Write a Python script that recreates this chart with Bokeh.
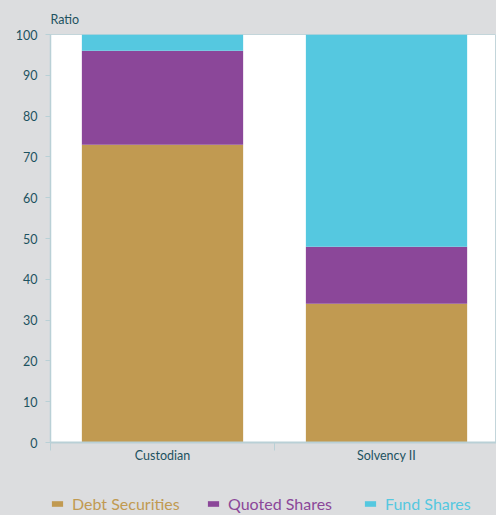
from bokeh.plotting import figure
from bokeh.models import Range1d, FixedTicker, Legend, LegendItem, ColumnDataSource
from bokeh.layouts import column
from bokeh.embed import file_html
from bokeh.resources import INLINE

categories = ["Custodian", "Solvency II"]
series = ["Debt Securities", "Quoted Shares", "Fund Shares"]
debt_securities = [73, 34]
quoted_shares = [23, 14]
fund_shares = [4, 52]
colors = ["#c19a51", "#8b4799", "#55c8e0"]
y_ticks = list(range(0, 101, 10))

TEXT = "#1d5260"
AXIS = "#b9d0d6"
BG = "#dcdddf"
FONT = "Lato"

xpos = [i + 0.5 for i in range(len(categories))]
source = ColumnDataSource(dict(x=xpos, **{
    "Debt Securities": debt_securities,
    "Quoted Shares": quoted_shares,
    "Fund Shares": fund_shares,
}))

p = figure(width=496, height=470, output_backend="svg", toolbar_location=None,
           x_range=Range1d(0, 1.991), y_range=Range1d(0, 100),
           min_border_left=50, min_border_right=0, min_border_top=34, min_border_bottom=28)
p.border_fill_color = BG
p.background_fill_color = "white"
p.outline_line_color = "#c3d5da"
p.grid.visible = False
p.styles = {"background-color": BG}

renderers = p.vbar_stack(series, x="x", width=0.72, source=source, color=colors, line_color=None)

# title
p.title.text = "Ratio"
p.title.align = "left"
p.title.offset = 0
p.title.text_font = FONT
p.title.text_font_size = "12.5px"
p.title.text_font_style = "normal"
p.title.text_color = TEXT
p.title.standoff = 15

# y axis
ya = p.yaxis[0]
ya.ticker = FixedTicker(ticks=y_ticks)
ya.axis_line_color = AXIS
ya.axis_line_width = 1.5
ya.major_tick_line_color = AXIS
ya.major_tick_out = 5
ya.major_tick_in = 0
ya.minor_tick_line_color = None
ya.major_label_standoff = 8
ya.major_label_text_font = FONT
ya.major_label_text_font_size = "12.5px"
ya.major_label_text_color = TEXT

# x axis
xa = p.xaxis[0]
xa.ticker = FixedTicker(ticks=xpos, minor_ticks=[float(i) for i in range(len(categories) + 1)])
xa.major_label_overrides = {xp: c for xp, c in zip(xpos, categories)}
xa.axis_line_color = AXIS
xa.axis_line_width = 2
xa.major_tick_line_color = None
xa.major_tick_out = 0
xa.major_tick_in = 0
xa.minor_tick_line_color = AXIS
xa.minor_tick_out = 8
xa.minor_tick_in = 0
xa.major_label_standoff = -3
xa.major_label_text_font = FONT
xa.major_label_text_font_size = "12.5px"
xa.major_label_text_color = TEXT

# legend strip: separate figure so each label can have its own colour
lg = figure(width=496, height=45, output_backend="svg", toolbar_location=None,
            x_range=Range1d(0, 1), y_range=Range1d(0, 1),
            x_axis_location=None, y_axis_location=None,
            min_border_left=50, min_border_right=0, min_border_top=0, min_border_bottom=0)
lg.border_fill_color = BG
lg.background_fill_color = BG
lg.outline_line_color = None
lg.grid.visible = False
lg.styles = {"background-color": BG}

# legend positions relative to the strip's frame (which starts at x=50)
leg_x = [0, 156, 313]
for name, c, lx in zip(series, colors, leg_x):
    # swatch-only renderer, parked outside the visible range
    r = lg.vbar(x=[5], top=[5], bottom=[4], width=0.1, color=c, line_color=None)
    leg = Legend(items=[LegendItem(label=name, renderers=[r])], location=(lx, 2),
                 orientation="horizontal", padding=0, margin=0, border_line_color=None,
                 background_fill_alpha=0, glyph_width=14, glyph_height=7, label_standoff=8,
                 label_text_font=FONT, label_text_font_size="16px", label_text_color=c,
                 label_height=20)
    lg.add_layout(leg)

layout = column(p, lg, spacing=0, styles={"background-color": BG})
open("out.html", "w").write(file_html(layout, INLINE))
